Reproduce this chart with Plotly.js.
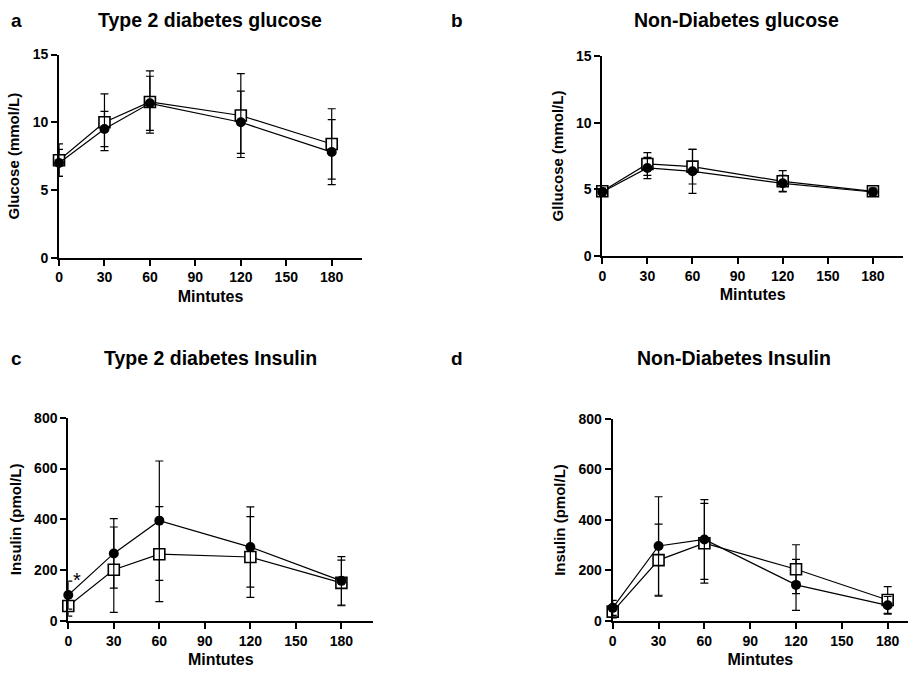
<!DOCTYPE html>
<html>
<head>
<meta charset="utf-8">
<script src="https://cdn.plot.ly/plotly-3.0.1.min.js"></script>
<style>html,body{margin:0;padding:0;background:#fff;}#chart{width:908px;height:673px;}</style>
</head>
<body>
<div id="chart"></div>
<script>
// ---- data ----
const minutes = [0, 30, 60, 120, 180];
const xTicks = [0, 30, 60, 90, 120, 150, 180];

// Panel a: Type 2 diabetes glucose
const t2GluCircle = [7.0, 9.5, 11.4, 10.0, 7.8];
const t2GluCircleErr = [1.0, 1.3, 2.0, 2.3, 2.4];
const t2GluSquare = [7.2, 10.0, 11.5, 10.5, 8.4];
const t2GluSquareErr = [1.2, 2.1, 2.3, 3.1, 2.6];

// Panel b: Non-diabetes glucose
const ndGluCircle = [4.8, 6.6, 6.35, 5.45, 4.8];
const ndGluCircleErr = [0.3, 0.8, 1.65, 0.6, 0.3];
const ndGluSquare = [4.85, 6.9, 6.7, 5.6, 4.85];
const ndGluSquareErr = [0.35, 0.85, 1.3, 0.8, 0.3];

// Panel c: Type 2 diabetes insulin
const t2InsCircle = [102, 266, 395, 291, 158];
const t2InsCircleErr = [55, 137, 235, 158, 95];
const t2InsSquare = [59, 202, 263, 252, 150];
const t2InsSquareErr = [40, 168, 187, 159, 90];

// Panel d: Non-diabetes insulin
const ndInsCircle = [52, 297, 323, 143, 62];
const ndInsCircleErr = [30, 195, 158, 101, 35];
const ndInsSquare = [37, 241, 308, 205, 83];
const ndInsSquareErr = [25, 143, 158, 97, 53];

const gluTicks = [0, 5, 10, 15];
const insTicks = [0, 200, 400, 600, 800];

// ---- styling helpers ----
const FONT = 'Liberation Sans, Arial, sans-serif';
function circleTrace(y, err, xa, ya) {
  return {
    x: minutes, y: y, xaxis: xa, yaxis: ya, type: 'scatter', mode: 'lines+markers',
    line: {color: '#000', width: 1.2},
    marker: {symbol: 'circle', size: 10, color: '#000'},
    error_y: {type: 'data', array: err, visible: true, color: '#000', thickness: 1.2, width: 4},
    cliponaxis: false, showlegend: false, hoverinfo: 'skip'
  };
}
function squareTrace(y, err, xa, ya) {
  return {
    x: minutes, y: y, xaxis: xa, yaxis: ya, type: 'scatter', mode: 'lines+markers',
    line: {color: '#000', width: 1.2},
    marker: {symbol: 'square', size: 11, color: '#fff', line: {color: '#000', width: 1.6}},
    error_y: {type: 'data', array: err, visible: true, color: '#000', thickness: 1.2, width: 4},
    cliponaxis: false, showlegend: false, hoverinfo: 'skip'
  };
}
function xAxis(domain, anchor, rmax) {
  return {
    domain: domain, anchor: anchor, range: [0, rmax], tickvals: xTicks, ticktext: xTicks.map(String),
    showline: true, linecolor: '#000', linewidth: 2, ticks: 'outside', ticklen: 6, tickwidth: 2, tickcolor: '#000',
    showgrid: false, zeroline: false,
    tickfont: {family: FONT, size: 14, color: '#000', weight: 'bold'},
    title: {text: '<b>Mintutes</b>', font: {family: FONT, size: 16, color: '#000'}, standoff: 6}
  };
}
function yAxis(domain, anchor, range, ticks, title) {
  return {
    domain: domain, anchor: anchor, range: range, tickvals: ticks, ticktext: ticks.map(String),
    showline: true, linecolor: '#000', linewidth: 2, ticks: 'outside', ticklen: 6, tickwidth: 2, tickcolor: '#000',
    showgrid: false, zeroline: false,
    tickfont: {family: FONT, size: 14, color: '#000', weight: 'bold'},
    title: {text: '<b>' + title + '</b>', font: {family: FONT, size: 15, color: '#000'}, standoff: 9}
  };
}

const data = [
  squareTrace(t2GluSquare, t2GluSquareErr, 'x', 'y'),
  circleTrace(t2GluCircle, t2GluCircleErr, 'x', 'y'),
  squareTrace(ndGluSquare, ndGluSquareErr, 'x2', 'y2'),
  circleTrace(ndGluCircle, ndGluCircleErr, 'x2', 'y2'),
  squareTrace(t2InsSquare, t2InsSquareErr, 'x3', 'y3'),
  circleTrace(t2InsCircle, t2InsCircleErr, 'x3', 'y3'),
  squareTrace(ndInsSquare, ndInsSquareErr, 'x4', 'y4'),
  circleTrace(ndInsCircle, ndInsCircleErr, 'x4', 'y4')
];

function paperText(text, x, ypx, size) {
  return {text: '<b>' + text + '</b>', xref: 'paper', yref: 'paper', x: x / 908, y: 1 - ypx / 673,
    xanchor: 'center', yanchor: 'middle', showarrow: false, font: {family: FONT, size: size, color: '#000'}};
}

const layout = {
  width: 908, height: 673, margin: {l: 0, r: 0, t: 0, b: 0},
  paper_bgcolor: '#fff', plot_bgcolor: '#fff', showlegend: false,
  font: {family: FONT, color: '#000'},
  xaxis: xAxis([0.065, 0.3987], 'y', 200),
  yaxis: yAxis([0.6171, 0.9189], 'x', [0, 15], gluTicks, 'Glucose (mmol/L)'),
  xaxis2: xAxis([0.6633, 0.9945], 'y2', 200),
  yaxis2: yAxis([0.6196, 0.9169], 'x2', [0, 15], gluTicks, 'Gllucose (mmol/L)'),
  xaxis3: xAxis([0.0752, 0.4111], 'y3', 201),
  yaxis3: yAxis([0.0773, 0.3792], 'x3', [0, 800], insTicks, 'Insulin (pmol/L)'),
  xaxis4: xAxis([0.6748, 1.0], 'y4', 193.3),
  yaxis4: yAxis([0.0773, 0.3774], 'x4', [0, 800], insTicks, 'Insulin (pmol/L)'),
  annotations: [
    paperText('a', 16, 20, 19),
    paperText('b', 457, 20, 19),
    paperText('c', 16, 358, 19),
    paperText('d', 457, 358, 19),
    paperText('Type 2 diabetes glucose', 210, 20, 19.5),
    paperText('Non-Diabetes glucose', 736, 20, 19.5),
    paperText('Type 2 diabetes Insulin', 210, 358, 19.5),
    paperText('Non-Diabetes Insulin', 734, 358, 19.5),
    {text: '*', xref: 'x3', yref: 'y3', x: 6, y: 160, showarrow: false,
     font: {family: FONT, size: 20, color: '#000'}, xanchor: 'center', yanchor: 'middle'}
  ]
};

Plotly.newPlot('chart', data, layout, {staticPlot: true, displayModeBar: false});
</script>
</body>
</html>
